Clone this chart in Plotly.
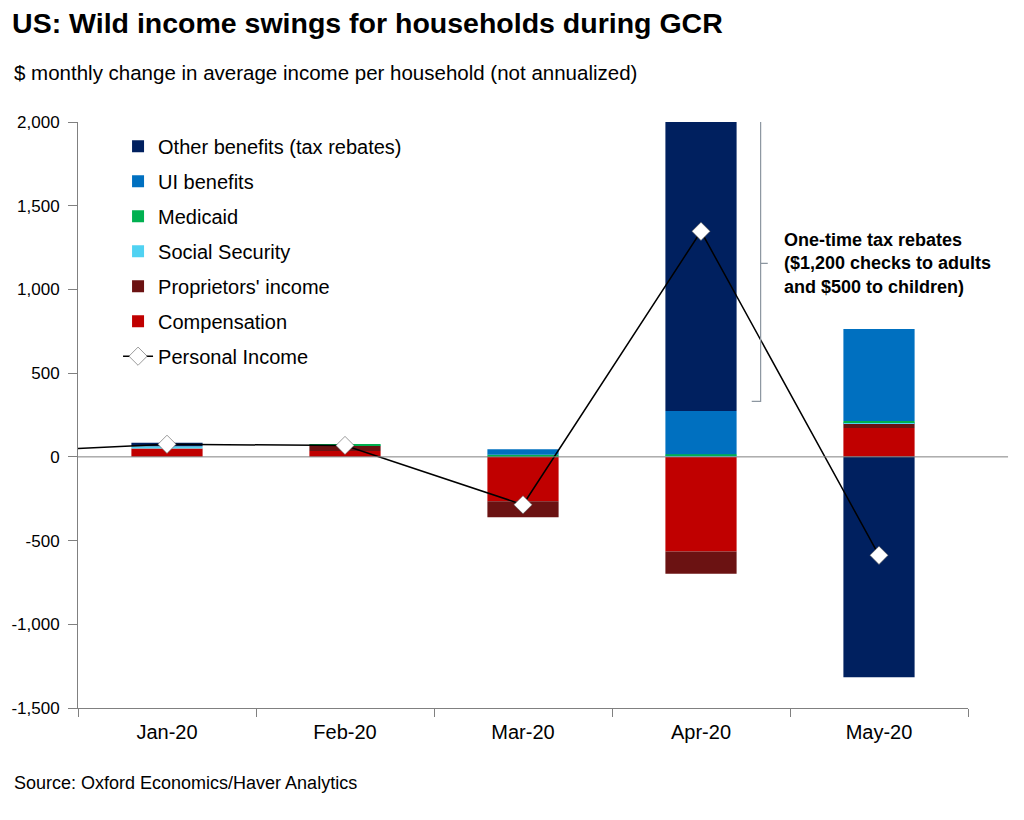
import plotly.graph_objects as go

months = ["Jan-20", "Feb-20", "Mar-20", "Apr-20", "May-20"]
xpos = [0, 1, 2, 3, 4]

# stacked components, $ per household
compensation = [50, 35, -265, -566, 172]
proprietors = [0, 30, -95, -132, 30]
social_security = [14, 4, 4, 6, 6]
medicaid = [0, 6, 8, 9, 6]
ui_benefits = [0, 0, 33, 259, 549]
other_benefits = [20, 0, 0, 1726, -1317]

# personal income line (first point is Dec-19, off the left edge)
pi_x = [-1, 0, 1, 2, 3, 4]
personal_income = [25, 75, 68, -286, 1347, -588]

yticks = [-1500, -1000, -500, 0, 500, 1000, 1500, 2000]
yticklabels = ["-1,500", "-1,000", "-500", "0", "500", "1,000", "1,500", "2,000"]

font = "Liberation Sans, Arial, sans-serif"

series = [
    ("Compensation", compensation, "#C00000", 6),
    ("Proprietors' income", proprietors, "#6B1212", 5),
    ("Social Security", social_security, "#50D2F2", 4),
    ("Medicaid", medicaid, "#00B050", 3),
    ("UI benefits", ui_benefits, "#0070C0", 2),
    ("Other benefits (tax rebates)", other_benefits, "#00205F", 1),
]

fig = go.Figure()
for name, vals, col, rank in series:
    fig.add_trace(go.Bar(x=xpos, y=vals, name=name, marker_color=col,
                         marker_line_width=0, width=0.4,
                         legendrank=rank, legendgroup=name))

fig.add_trace(go.Scatter(x=pi_x, y=personal_income, name="Personal Income",
                         mode="lines+markers", legendrank=7, legendgroup="pi",
                         line=dict(color="black", width=1.5),
                         marker=dict(symbol="diamond", size=14, color="white",
                                     line=dict(color="#555555", width=0.6))))

# page body has an 8px margin, so the figure is a bit smaller than the window
fig.update_layout(
    width=1016, height=812,
    barmode="relative",
    plot_bgcolor="white", paper_bgcolor="white",
    margin=dict(l=70, r=56, t=114, b=112, autoexpand=False),
    font=dict(family=font, size=19.5, color="#000000"),
    title=dict(text="<b>US: Wild income swings for households during GCR</b>",
               x=0.004, xanchor="left", y=0.982, yanchor="middle",
               font=dict(size=28.5, family=font, color="#000000")),
    showlegend=True,
    legend=dict(x=0.045, y=0.992, xanchor="left", yanchor="top",
                traceorder="grouped", tracegroupgap=6,
                font=dict(size=20, family=font), bgcolor="rgba(0,0,0,0)"),
    xaxis=dict(range=[-0.5, 4.5], tickvals=xpos, ticktext=months,
               ticks="", showline=True, linecolor="#808080", linewidth=1,
               showgrid=False, zeroline=False, ticklabelstandoff=6,
               tickfont=dict(size=20), automargin=False,
               minor=dict(tickvals=[-0.5, 0.5, 1.5, 2.5, 3.5, 4.5],
                          ticks="outside", ticklen=8, tickcolor="#808080",
                          showgrid=False)),
    yaxis=dict(range=[-1500, 2000], tickvals=yticks, ticktext=yticklabels,
               ticks="outside", ticklen=9, tickcolor="#808080",
               showline=True, linecolor="#808080", linewidth=1,
               showgrid=False, zeroline=False, ticklabelstandoff=5,
               tickfont=dict(size=17), automargin=False),
)

# zero line running a little past the plot area
fig.add_shape(type="line", xref="paper", yref="y", x0=0, x1=1.045, y0=0, y1=0,
              line=dict(color="#808080", width=1))

# bracket around the April tax rebates
fig.add_shape(type="path", xref="paper", yref="y",
              path="M 0.757,2012 L 0.767,2012 L 0.767,331 L 0.757,331 "
                   "M 0.767,1156 L 0.775,1156",
              line=dict(color="#8C96A0", width=1.2))

fig.add_annotation(xref="paper", yref="y", x=0.791, y=1156, xanchor="left",
                   yanchor="middle", align="left", showarrow=False,
                   text="<b>One-time tax rebates<br>($1,200 checks to adults<br>and $500 to children)</b>",
                   font=dict(size=18, family=font, color="#000000"))

fig.add_annotation(xref="paper", yref="paper", x=-0.0742, y=1.0853,
                   xanchor="left", yanchor="middle", showarrow=False,
                   text="$ monthly change in average income per household (not annualized)",
                   font=dict(size=20.5, family=font, color="#000000"))

fig.add_annotation(xref="paper", yref="paper", x=-0.0742, y=-0.128,
                   xanchor="left", yanchor="middle", showarrow=False,
                   text="Source: Oxford Economics/Haver Analytics",
                   font=dict(size=18, family=font, color="#000000"))

fig.write_html("out.html")
